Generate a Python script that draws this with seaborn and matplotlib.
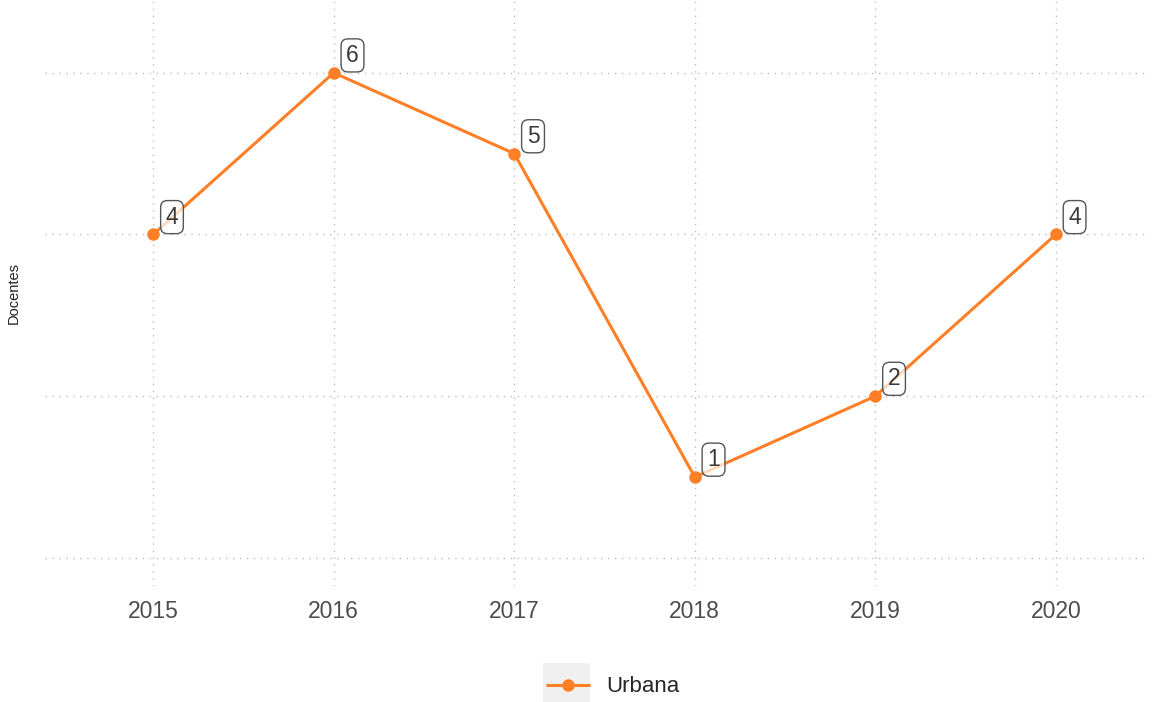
import matplotlib
matplotlib.use("Agg")
import matplotlib.pyplot as plt
from matplotlib.patches import Rectangle
import seaborn as sns
import pandas as pd

# Data
anos = [2015, 2016, 2017, 2018, 2019, 2020]
docentes = [4, 6, 5, 1, 2, 4]
zona = ["Urbana"] * len(anos)

df = pd.DataFrame({"Ano": anos, "Docentes": docentes, "Zona": zona})

sns.set_theme(style="white")
plt.rcParams["font.family"] = ["Liberation Sans", "DejaVu Sans"]

fig = plt.figure(figsize=(11.52, 7.02), dpi=100)
ax = fig.add_axes([0.039, 0.165, 0.959, 0.835])

naranja = "#FF7F27"
sns.lineplot(data=df, x="Ano", y="Docentes", hue="Zona", palette=[naranja],
             marker="o", markersize=9, markeredgewidth=0, linewidth=2.2,
             ax=ax, legend=True, zorder=3)

# value labels
for x, y in zip(anos, docentes):
    ax.annotate(str(y), xy=(x, y), xytext=(13.5, 12.5), textcoords="offset points",
                ha="center", va="center", fontsize=16.5, color="#3a3a3a",
                bbox=dict(boxstyle="round,pad=0.22,rounding_size=0.3",
                          fc=(1, 1, 1, 0.7), ec="#555555", lw=1.0),
                zorder=5)

ax.set_xlim(2014.4, 2020.52)
ax.set_ylim(-0.35, 6.9)
ax.set_xticks(anos)
ax.set_xticklabels([str(a) for a in anos])
ax.set_yticks([0, 2, 4, 6])
ax.set_yticklabels([])
ax.tick_params(axis="x", labelsize=16.5, labelcolor="#4d4d4d", length=0, pad=10)
ax.tick_params(axis="y", length=0)
ax.grid(True, linestyle=(0, (1, 4)), color="#bdbdbd", linewidth=1.0)
for s in ax.spines.values():
    s.set_visible(False)
ax.set_xlabel("")
ax.set_ylabel("Docentes", fontsize=10.5, color="#222222", labelpad=14)

# legend below the panel
handles, labels = ax.get_legend_handles_labels()
ax.legend_.remove()
leg = fig.legend(handles, labels, loc="center",
                 bbox_to_anchor=(0.5 + 37 / 1152, 1 - 687 / 702),
                 frameon=False, fontsize=16, handlelength=1.9,
                 handletextpad=0.75, borderaxespad=0)

# light grey key background
key_rect = Rectangle((543 / 1152, 1 - 703 / 702), 47 / 1152, 40 / 702,
                     transform=fig.transFigure, facecolor="#f0f0f0",
                     edgecolor="none", zorder=0)
fig.patches.append(key_rect)

fig.savefig("out.png", dpi=100)
